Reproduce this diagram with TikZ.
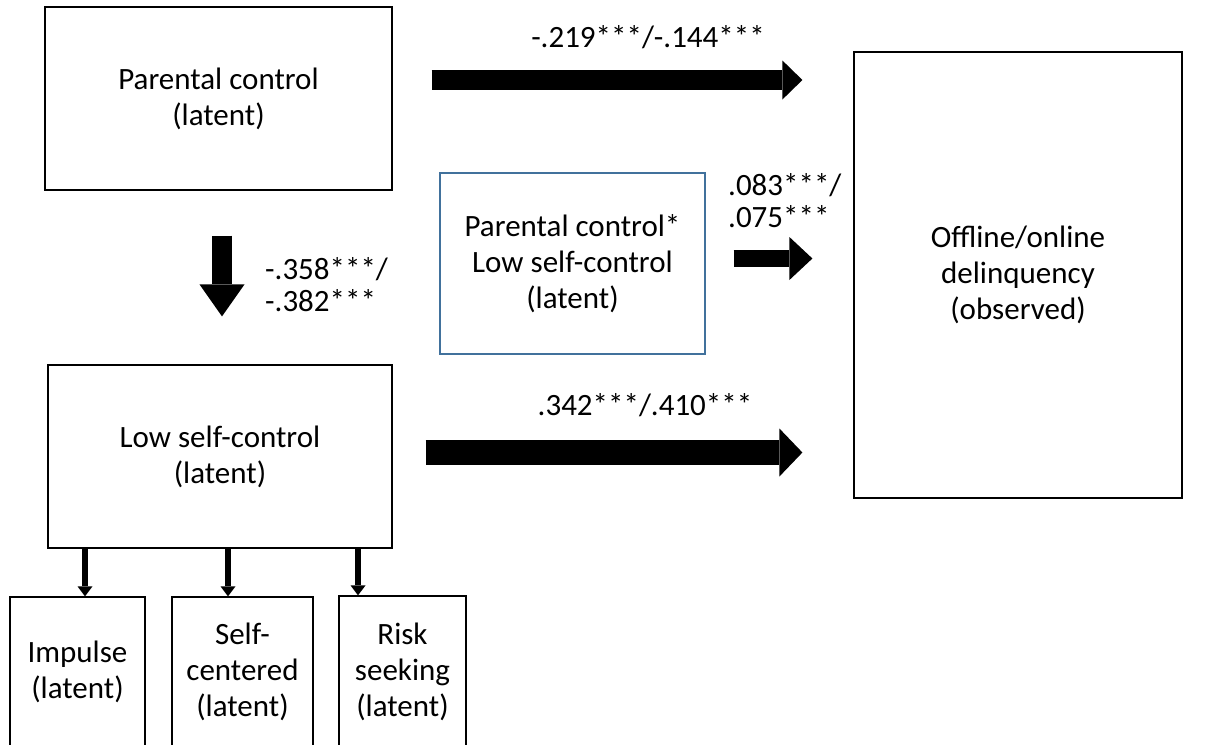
\documentclass[tikz,border=0pt]{standalone}
\usepackage{fontspec}
\setmainfont{Carlito}
\usetikzlibrary{arrows.meta, positioning}

\definecolor{boxblue}{RGB}{65,113,156}

\tikzset{
  latent/.style={draw, line width=1.2pt, align=center, inner sep=0pt,
    font=\fontsize{31}{36}\selectfont},
  coef/.style={align=left, inner sep=0pt, font=\fontsize{31}{32}\selectfont},
}

\begin{document}
\begin{tikzpicture}[x=1pt, y=-1pt]
\useasboundingbox (0,0) rectangle (1209,744);

% Main constructs
\node[latent, minimum width=347pt, minimum height=183pt] (pc) at (218.5,98.5) {Parental control\\(latent)};
\node[latent, minimum width=344pt, minimum height=183pt] (lsc) at (220,456.5) {Low self-control\\(latent)};
\node[latent, draw=boxblue, minimum width=265pt, minimum height=181pt] (inter) at (572.5,263.5) {Parental control*\\Low self-control\\(latent)};
\node[latent, minimum width=328pt, minimum height=446pt] (off) at (1018,275) {Offline/online\\delinquency\\(observed)};

% Dimensions of low self-control
\node[latent, minimum width=135pt, minimum height=150pt] (imp) at (77.5,672) {Impulse\\(latent)};
\node[latent, minimum width=141pt, minimum height=150pt] (sc) at (242.5,672) {Self-\\centered\\(latent)};
\node[latent, minimum width=127pt, minimum height=151pt] (risk) at (402.5,671.5) {Risk\\seeking\\(latent)};

% Paths
\draw[line width=20pt, -{Triangle[length=20pt, width=39pt, line width=0pt]}]
  ([shift={(39,-18.5)}]pc.east) -- ([shift={(-51,-195)}]off.west);
\draw[line width=20pt, -{Triangle[length=32pt, width=45pt, line width=0pt]}]
  ([shift={(3.5,45)}]pc.south) -- ([shift={(2,-48)}]lsc.north);
\draw[line width=17pt, -{Triangle[length=23pt, width=43pt, line width=0pt]}]
  ([shift={(28,-5)}]inter.east) -- ([shift={(-41,-16.5)}]off.west);
\draw[line width=25pt, -{Triangle[length=23pt, width=48pt, line width=0pt]}]
  ([shift={(33,-4)}]lsc.east) -- ([shift={(-51,177.5)}]off.west);
\foreach \a/\b/\n in {-135/7.5/imp, 8/-14.5/sc, 138/-44.5/risk}
  \draw[line width=6pt, -{Triangle[length=10pt, width=15pt, line width=0pt]}]
    ([xshift=\a]lsc.south) -- ([xshift=\b]\n.north);

% Coefficients
\node[coef, anchor=base] (c1) at (648,47) {-.219***/-.144***};
\node[coef, anchor=north west] (c2) at (265,257) {-.358***/\\-.382***};
\node[coef, anchor=north west] (c3) at (728,173) {.083***/\\.075***};
\node[coef, anchor=base] (c4) at (645,415) {.342***/.410***};
\end{tikzpicture}
\end{document}
